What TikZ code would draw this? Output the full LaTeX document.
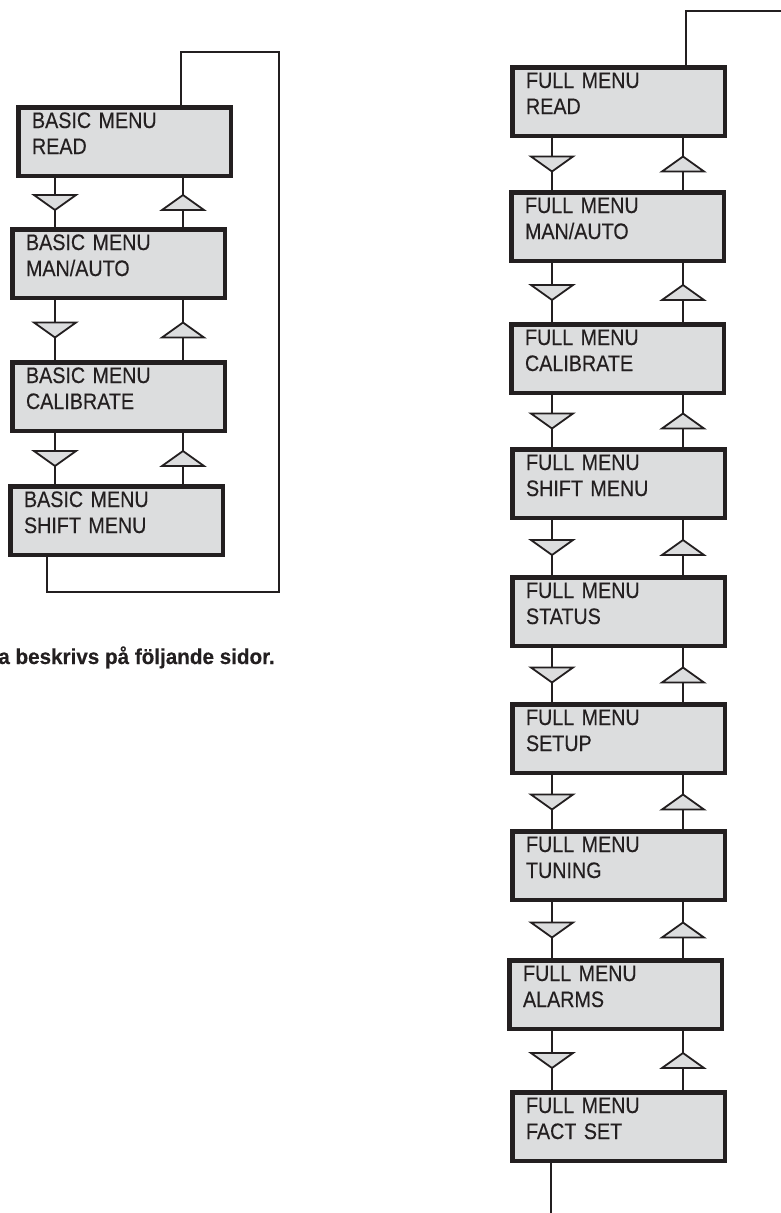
\documentclass[tikz,border=0pt]{standalone}
\usepackage{fontspec}
\setmainfont{Liberation Sans}[FakeStretch=0.88, FakeBold=0.3]
\newfontfamily\notefont{Liberation Sans}[FakeStretch=0.96, FakeBold=0.4]
\usetikzlibrary{calc}
\definecolor{ink}{HTML}{231F20}
\definecolor{boxfill}{HTML}{DCDDDE}
\tikzset{
  menubox/.style={draw=ink, fill=boxfill, line width=4.5pt, rectangle,
    anchor=north west, text width=185pt, align=left,
    inner xsep=13.75pt, inner ysep=0pt, text height=20.75pt, text depth=47.75pt,
    font=\fontsize{22.4pt}{26pt}\selectfont, text=ink},
  conn/.style={draw=ink, line width=2pt},
  trishape/.style={draw=ink, fill=boxfill, line width=1.8pt, line join=miter},
  dtri/.pic={\path[trishape] (-21,-7.5) -- (21,-7.5) -- (0,7.5) -- cycle;},
  utri/.pic={\path[trishape] (-21,7.5) -- (21,7.5) -- (0,-7.5) -- cycle;},
}
\begin{document}
\begin{tikzpicture}[x=1pt, y=-1pt]
\useasboundingbox (0,0) rectangle (780,1213);

% ---------- Basic menu column ----------
\node[menubox] (B1) at (16,105) {BASIC MENU\\READ};
\node[menubox] (B2) at (10,227) {BASIC MENU\\MAN/AUTO};
\node[menubox] (B3) at (10,360) {BASIC MENU\\CALIBRATE};
\node[menubox] (B4) at (8,484)  {BASIC MENU\\SHIFT MENU};

\coordinate (ld) at (55,0);
\coordinate (lu) at (183,0);
\foreach \a/\b in {B1/B2,B2/B3,B3/B4}{
  \draw[conn] (\a.south -| ld) -- (\b.north -| ld);
  \draw[conn] (\a.south -| lu) -- (\b.north -| lu);
  \coordinate (m) at ($(\a.south)!0.5!(\b.north)$);
  \pic at (m -| ld) {dtri};
  \pic at (m -| lu) {utri};
}

\coordinate (lt) at (181,0);
\coordinate (lb) at (47,0);
\coordinate (Lne) at (279,52);
\coordinate (Lse) at (279,592);
\draw[conn, line join=miter] (B1.north -| lt) |- (Lne) -- (Lse) -| (B4.south -| lb);

\node[anchor=base east, inner sep=0pt, text=ink,
  font=\notefont\bfseries\fontsize{21.5pt}{25pt}\selectfont] (note) at (275,664)
  {a beskrivs på följande sidor.};

% ---------- Full menu column ----------
\node[menubox] (R1) at (510,65)   {FULL MENU\\READ};
\node[menubox] (R2) at (509,190)  {FULL MENU\\MAN/AUTO};
\node[menubox] (R3) at (509,322)  {FULL MENU\\CALIBRATE};
\node[menubox] (R4) at (510,447)  {FULL MENU\\SHIFT MENU};
\node[menubox] (R5) at (510,575)  {FULL MENU\\STATUS};
\node[menubox] (R6) at (510,702)  {FULL MENU\\SETUP};
\node[menubox] (R7) at (510,829)  {FULL MENU\\TUNING};
\node[menubox] (R8) at (507,958)  {FULL MENU\\ALARMS};
\node[menubox] (R9) at (510,1090) {FULL MENU\\FACT SET};

\coordinate (rd) at (552,0);
\coordinate (ru) at (683,0);
\foreach \a/\b in {R1/R2,R2/R3,R3/R4,R4/R5,R5/R6,R6/R7,R7/R8,R8/R9}{
  \draw[conn] (\a.south -| rd) -- (\b.north -| rd);
  \draw[conn] (\a.south -| ru) -- (\b.north -| ru);
  \coordinate (m) at ($(\a.south)!0.5!(\b.north)$);
  \pic at (m -| rd) {dtri};
  \pic at (m -| ru) {utri};
}

\coordinate (rx) at (686,0);
\coordinate (Rexit) at (782,11);
\draw[conn, line join=miter] (R1.north -| rx) |- (Rexit);
\coordinate (Rbot) at (551,1215);
\draw[conn] (R9.south -| Rbot) -- (Rbot);
\end{tikzpicture}
\end{document}
